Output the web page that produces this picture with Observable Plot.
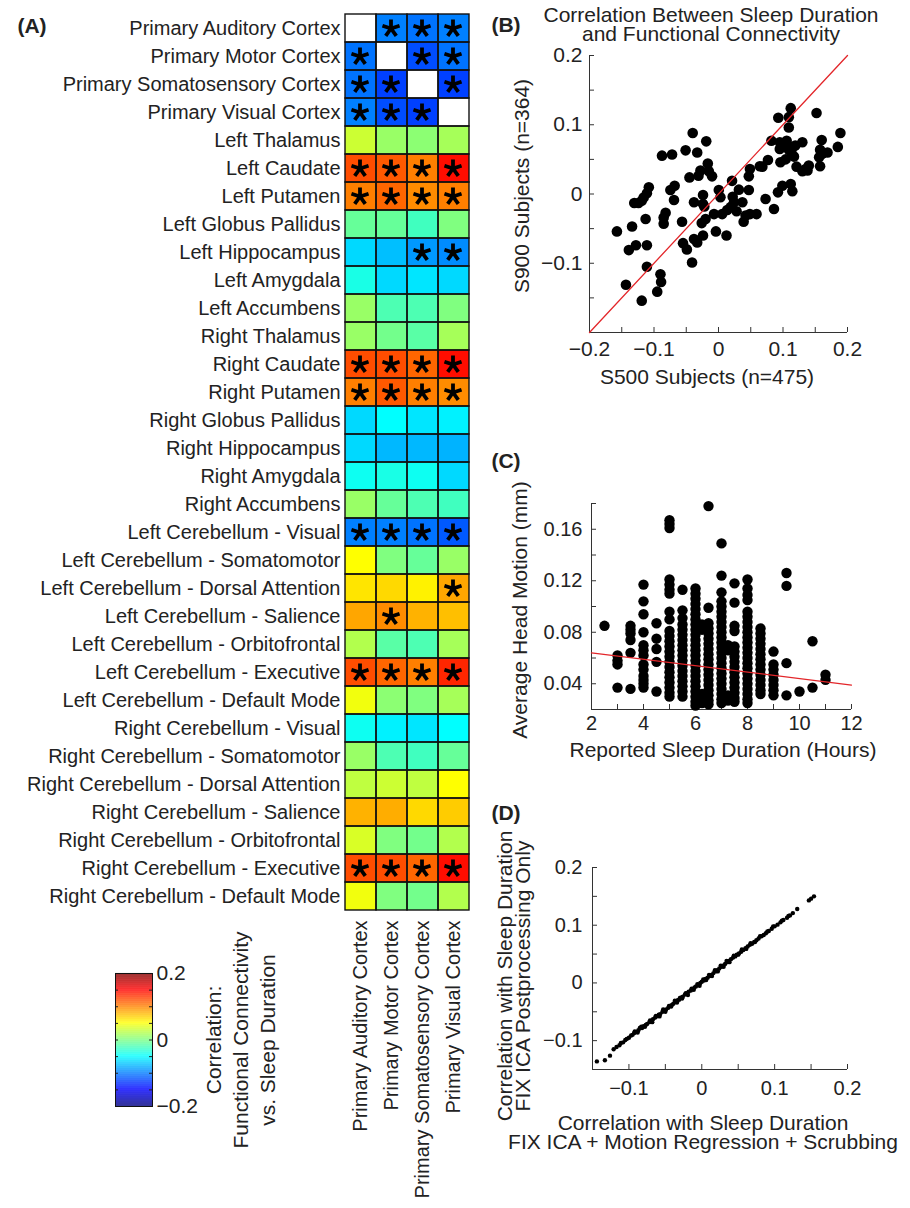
<!DOCTYPE html>
<html><head><meta charset="utf-8">
<script src="https://cdn.jsdelivr.net/npm/d3@7"></script>
<script src="https://cdn.jsdelivr.net/npm/@observablehq/plot@0.6"></script>
<style>
body{margin:0;background:#fff;}
#fig{position:relative;width:910px;height:1208px;overflow:hidden;background:#fff;font-family:"Liberation Sans",Arial,Helvetica,sans-serif;color:#222;}
.panel{position:absolute;}
.lbl{position:absolute;white-space:pre;text-align:center;}
</style></head><body><div id="fig"></div>
<script>
// ---------------- Panel A data ----------------
const rowLabels = [
  "Primary Auditory Cortex","Primary Motor Cortex","Primary Somatosensory Cortex","Primary Visual Cortex",
  "Left Thalamus","Left Caudate","Left Putamen","Left Globus Pallidus","Left Hippocampus","Left Amygdala","Left Accumbens",
  "Right Thalamus","Right Caudate","Right Putamen","Right Globus Pallidus","Right Hippocampus","Right Amygdala","Right Accumbens",
  "Left Cerebellum - Visual","Left Cerebellum - Somatomotor","Left Cerebellum - Dorsal Attention","Left Cerebellum - Salience",
  "Left Cerebellum - Orbitofrontal","Left Cerebellum - Executive","Left Cerebellum - Default Mode",
  "Right Cerebellum - Visual","Right Cerebellum - Somatomotor","Right Cerebellum - Dorsal Attention","Right Cerebellum - Salience",
  "Right Cerebellum - Orbitofrontal","Right Cerebellum - Executive","Right Cerebellum - Default Mode"
];
const colLabels = ["Primary Auditory Cortex","Primary Motor Cortex","Primary Somatosensory Cortex","Primary Visual Cortex"];
const corrAuditory = [null,-0.105,-0.105,-0.10,0.03,0.12,0.10,-0.01,-0.065,-0.04,0.01,0.01,0.12,0.10,-0.065,-0.065,-0.045,0.01,-0.10,0.05,0.06,0.085,0.02,0.12,0.045,-0.045,0.01,0.025,0.08,0.035,0.12,0.045];
const corrMotor    = [-0.10,null,-0.125,-0.12,0.01,0.115,0.11,-0.01,-0.075,-0.065,-0.02,-0.005,0.12,0.115,-0.05,-0.078,-0.04,-0.01,-0.10,0.0,0.065,0.095,-0.015,0.11,0.005,-0.055,-0.02,0.03,0.082,0.0,0.12,0.0];
const corrSomato   = [-0.105,-0.12,null,-0.125,0.005,0.10,0.095,-0.025,-0.09,-0.06,-0.02,-0.015,0.11,0.10,-0.06,-0.078,-0.045,-0.02,-0.105,-0.01,0.055,0.08,-0.02,0.10,0.0,-0.06,-0.025,0.025,0.065,-0.005,0.11,-0.005];
const corrVisual   = [-0.10,-0.105,-0.125,null,0.015,0.145,0.10,0.0,-0.095,-0.065,0.0,0.015,0.145,0.095,-0.055,-0.08,-0.065,-0.025,-0.115,0.01,0.085,0.075,0.015,0.135,0.015,-0.05,-0.01,0.05,0.07,0.02,0.145,0.02];
const sigAuditory = [2,3,4,6,7,13,14,19,24,31];
const sigMotor    = [1,3,4,6,7,13,14,19,22,24,31];
const sigSomato   = [1,2,4,6,7,9,13,14,19,24,31];
const sigVisual   = [1,2,3,6,7,9,13,14,19,21,24,31];
const colorTicks = [-0.2, 0, 0.2];

// ---------------- Panel B data ----------------
const s500 = [-0.1575,-0.139,-0.134,-0.1435,-0.128,-0.1306,-0.124,-0.119,-0.116,-0.111,-0.108,-0.113,-0.111,-0.111,-0.119,-0.095,-0.090,-0.089,-0.0876,-0.072,-0.085,-0.085,-0.082,-0.0746,-0.068,-0.069,-0.0565,-0.055,-0.051,-0.049,-0.045,-0.040,-0.041,-0.038,-0.038,-0.033,-0.033,-0.031,-0.028,-0.026,-0.024,-0.024,-0.022,-0.024,-0.019,-0.020,-0.0166,-0.015,-0.010,-0.007,-0.004,0.0005,0.003,0.0057,0.0124,0.0135,0.0187,0.021,0.022,0.024,0.028,0.0316,0.037,0.039,0.042,0.047,0.047,0.0487,0.0487,0.059,0.064,0.068,0.073,0.0767,0.082,0.086,0.0927,0.095,0.095,0.096,0.0922,0.099,0.104,0.1057,0.107,0.109,0.109,0.112,0.109,0.113,0.112,0.1145,0.117,0.121,0.130,0.130,0.135,0.140,0.152,0.1575,0.1575,0.160,0.161,0.169,0.185,0.189,0.156,0.138,0.1145,0.119];
const s900 = [-0.054,-0.081,-0.047,-0.131,-0.074,-0.013,-0.013,-0.0096,-0.005,0.001,0.0096,-0.036,-0.074,-0.105,-0.154,-0.141,-0.116,-0.127,0.0554,0.057,-0.034,-0.043,-0.027,0.0058,0.012,-0.0087,-0.040,-0.071,0.063,-0.080,0.024,0.088,-0.099,-0.065,-0.012,0.060,-0.070,0.0265,0.034,-0.042,-0.0015,-0.0145,-0.018,-0.060,0.076,-0.036,0.044,0.033,0.0255,-0.029,-0.054,0.0058,-0.0048,-0.029,-0.060,-0.023,-0.019,0.019,-0.004,-0.012,-0.025,0.0063,-0.012,-0.040,-0.031,0.0058,0.0255,0.036,-0.029,-0.029,0.040,0.0395,-0.0072,0.049,0.077,-0.0217,0.110,0.0747,0.065,0.0458,0.0024,0.012,0.050,0.077,0.069,0.096,0.064,0.124,0.111,0.060,0.0145,0.0039,0.054,0.0395,0.0747,0.033,0.036,0.041,0.117,0.064,0.040,0.078,0.058,0.060,0.068,0.088,0.053,0.034,0.067,0.070];
const identityLine = [-0.2, 0.2];

// ---------------- Panel C data ----------------
const sleepHours = [2.5,3,3.5,4,4.5,5,5.5,6,6.25,6.5,7,7.25,7.5,8,8.5,9,9.5,10,10.5,11];
const motionByHours = [
  [0.085],
  [0.062,0.058,0.055,0.037],
  [0.085,0.082,0.079,0.074,0.064,0.036],
  [0.117,0.104,0.094,0.080,0.070,0.066,0.062,0.055,0.051,0.046,0.043,0.040,0.037],
  [0.087,0.075,0.067,0.057,0.034],
  [0.167,0.164,0.161,0.121,0.117,0.113,0.110,0.096,0.090,0.081,0.077,0.073,0.069,0.065,0.061,0.057,0.053,0.049,0.045,0.041,0.037,0.033,0.030],
  [0.113,0.097,0.091,0.086,0.082,0.078,0.074,0.070,0.066,0.062,0.058,0.054,0.050,0.046,0.042,0.038,0.034,0.030],
  [0.114,0.110,0.106,0.102,0.098,0.094,0.090,0.086,0.082,0.078,0.074,0.070,0.066,0.062,0.058,0.054,0.050,0.046,0.042,0.038,0.034,0.030,0.026,0.023],
  [0.086,0.082,0.032,0.028,0.025],
  [0.178,0.099,0.087,0.083,0.079,0.075,0.071,0.067,0.063,0.059,0.055,0.051,0.047,0.043,0.039,0.035,0.031,0.027,0.024],
  [0.149,0.124,0.111,0.104,0.100,0.096,0.092,0.088,0.084,0.080,0.076,0.072,0.068,0.064,0.060,0.056,0.052,0.048,0.044,0.040,0.036,0.032,0.028,0.025],
  [0.070,0.066,0.031,0.027],
  [0.118,0.103,0.085,0.081,0.069,0.065,0.061,0.057,0.053,0.049,0.045,0.041,0.037,0.033,0.029,0.026],
  [0.121,0.114,0.109,0.105,0.096,0.092,0.088,0.084,0.080,0.076,0.072,0.068,0.064,0.060,0.056,0.052,0.048,0.044,0.040,0.036,0.032,0.028,0.025],
  [0.083,0.079,0.075,0.071,0.067,0.063,0.059,0.055,0.051,0.047,0.043,0.039,0.035,0.032],
  [0.065,0.055,0.051,0.047,0.043,0.039,0.035,0.031],
  [0.126,0.116,0.056,0.031],
  [0.034],
  [0.073,0.037],
  [0.047,0.043]
];
const fitHours = [2, 12];
const fitMotion = [0.064, 0.039];

// ---------------- Panel D data ----------------
const dScrub = [-0.144,-0.133,-0.126,-0.121,-0.117,-0.113,-0.111,-0.108,-0.105,-0.103,-0.100,-0.097,-0.095,-0.093,-0.090,-0.087,-0.085,-0.082,-0.080,-0.077,-0.075,-0.072,-0.070,-0.067,-0.064,-0.062,-0.059,-0.057,-0.054,-0.052,-0.049,-0.046,-0.044,-0.041,-0.039,-0.036,-0.033,-0.031,-0.028,-0.026,-0.023,-0.020,-0.018,-0.015,-0.013,-0.010,-0.008,-0.005,-0.002,0.000,0.003,0.005,0.008,0.011,0.013,0.016,0.019,0.021,0.024,0.027,0.029,0.032,0.035,0.037,0.040,0.043,0.046,0.048,0.051,0.054,0.057,0.060,0.063,0.066,0.069,0.072,0.075,0.078,0.082,0.085,0.088,0.092,0.096,0.100,0.104,0.108,0.112,0.117,0.121,0.125,0.131,0.147,0.150,0.154,
  -0.092,-0.088,-0.083,-0.078,-0.071,-0.068,-0.063,-0.058,-0.053,-0.050,-0.045,-0.042,-0.037,-0.034,-0.030,-0.027,-0.022,-0.019,-0.014,-0.011,-0.006,-0.003,0.002,0.006,0.010,0.014,0.018,0.022,0.026,0.030,0.034,0.038,0.044,0.050,0.055,0.061,0.067,0.073,0.080,0.090,0.098,0.110,0.119];
const dFixOnly = [-0.136,-0.134,-0.126,-0.115,-0.111,-0.108,-0.104,-0.103,-0.099,-0.097,-0.095,-0.091,-0.090,-0.087,-0.085,-0.082,-0.078,-0.078,-0.075,-0.073,-0.071,-0.068,-0.066,-0.063,-0.060,-0.058,-0.055,-0.054,-0.050,-0.048,-0.046,-0.043,-0.040,-0.038,-0.036,-0.033,-0.030,-0.029,-0.025,-0.024,-0.020,-0.018,-0.015,-0.013,-0.011,-0.008,-0.006,-0.003,0.000,0.002,0.004,0.007,0.009,0.012,0.014,0.017,0.020,0.022,0.025,0.028,0.030,0.033,0.036,0.038,0.041,0.044,0.046,0.049,0.051,0.054,0.057,0.060,0.063,0.066,0.068,0.071,0.074,0.077,0.081,0.083,0.086,0.090,0.094,0.098,0.101,0.105,0.109,0.113,0.117,0.121,0.128,0.143,0.146,0.150,
  -0.084,-0.086,-0.076,-0.076,-0.065,-0.068,-0.057,-0.058,-0.046,-0.050,-0.040,-0.041,-0.031,-0.034,-0.026,-0.027,-0.018,-0.021,-0.010,-0.012,-0.002,-0.005,0.006,0.005,0.014,0.012,0.022,0.020,0.030,0.028,0.038,0.036,0.047,0.049,0.058,0.059,0.069,0.071,0.081,0.089,0.098,0.108,0.116];

// ---------------- helpers ----------------
const fig = document.getElementById("fig");
const FONT = '"Liberation Sans", Arial, Helvetica, sans-serif';
const AX = "#333";
const fmt = d3.format("~g");
const jet = (t) => {
  const c = v => Math.max(0, Math.min(1, v));
  const r = c(1.5 - Math.abs(4 * t - 3)), g = c(1.5 - Math.abs(4 * t - 2)), b = c(1.5 - Math.abs(4 * t - 1));
  return `rgb(${Math.round(r*255)},${Math.round(g*255)},${Math.round(b*255)})`;
};
const colorScale = {type: "linear", domain: [-0.2, 0.2], interpolate: jet, clamp: true};
// five-armed asterisk symbol (like the text glyph "*")
const star5 = {
  draw(context, size) {
    const r = Math.sqrt(size / Math.PI);
    for (let k = 0; k < 5; ++k) {
      const a = (-90 + 72 * k) * Math.PI / 180;
      context.moveTo(0, 0);
      context.lineTo(r * Math.cos(a), r * Math.sin(a));
    }
  }
};
function place(node, left, top) {
  const d = document.createElement("div");
  d.className = "panel"; d.style.left = left + "px"; d.style.top = top + "px";
  d.appendChild(node); fig.appendChild(d);
}
function addLabel(text, cx, cy, {size = 21, rotate = 0, weight = "normal", lh = null} = {}) {
  const d = document.createElement("div");
  d.className = "lbl"; d.textContent = text;
  d.style.left = cx + "px"; d.style.top = cy + "px";
  d.style.fontSize = size + "px"; d.style.fontWeight = weight;
  d.style.lineHeight = (lh ?? Math.round(size * 1.15)) + "px";
  d.style.transform = `translate(-50%,-50%) rotate(${rotate}deg)`;
  fig.appendChild(d);
}
const baseStyle = (fs) => ({background: "transparent", fontFamily: FONT, fontSize: fs + "px", color: "#222", overflow: "visible"});

// inward tick helpers
function xTicksIn(values, ymin, len = 5) {
  return Plot.ruleX(values, {x: d => d, y1: ymin, y2: ymin, insetBottom: len, stroke: AX});
}
function yTicksIn(values, xmin, len = 5) {
  return Plot.ruleY(values, {y: d => d, x1: xmin, x2: xmin, insetRight: -len, stroke: AX});
}

// ---------------- Panel A: heatmap ----------------
const corrCols = [corrAuditory, corrMotor, corrSomato, corrVisual];
const sigCols = [sigAuditory, sigMotor, sigSomato, sigVisual];
const cells = [];
rowLabels.forEach((r, i) => colLabels.forEach((c, j) => cells.push({row: r, col: c, v: corrCols[j][i], sig: sigCols[j].includes(i + 1)})));

const heat = Plot.plot({
  width: 480, height: 1208,
  marginLeft: 345, marginRight: 11, marginTop: 10, marginBottom: 295,
  style: baseStyle(20),
  x: {domain: colLabels, padding: 0, label: null},
  y: {domain: rowLabels, padding: 0, label: null},
  color: colorScale,
  marks: [
    Plot.cell(cells.filter(d => d.v != null), {x: "col", y: "row", fill: "v", inset: 0}),
    Plot.cell(cells, {x: "col", y: "row", fill: "none", stroke: "#111", strokeWidth: 1.4, inset: 0}),
    Plot.dot(cells.filter(d => d.sig), {x: "col", y: "row", symbol: star5, r: 9, fill: "none", stroke: "black", strokeWidth: 3.8, dy: 0, dx: -1}),
    Plot.axisY({anchor: "left", tickSize: 0, tickPadding: 5, label: null, fontSize: 20}),
    Plot.axisX({anchor: "bottom", tickSize: 0, tickRotate: -90, tickPadding: 7, label: null, fontSize: 20})
  ]
});
place(heat, 0, 0);

// colorbar
const ramp = d3.range(-0.2, 0.2, 0.002);
const cbMinor = [-0.15, -0.1, -0.05, 0, 0.05, 0.1, 0.15];
const cbar = Plot.plot({
  width: 120, height: 160,
  marginLeft: 15, marginRight: 68, marginTop: 13, marginBottom: 14,
  style: baseStyle(21),
  x: {domain: [0, 1], axis: null},
  y: {domain: [-0.2, 0.2], label: null, axis: null},
  color: colorScale,
  marks: [
    Plot.rect(ramp, {x1: 0, x2: 1, y1: d => d, y2: d => d + 0.0021, fill: d => d}),
    Plot.ruleY(cbMinor, {y: d => d, x1: 0, x2: 0, insetRight: -3, stroke: "#222"}),
    Plot.ruleY(cbMinor, {y: d => d, x1: 1, x2: 1, insetLeft: -3, stroke: "#222"}),
    Plot.frame({stroke: "#111"}),
    Plot.axisY({anchor: "right", ticks: colorTicks, tickFormat: fmt, tickSize: 0, tickPadding: 4, label: null, fontSize: 21})
  ]
});
place(cbar, 100, 960);

// ---------------- Panel B ----------------
const bData = s500.map((x, i) => ({x, y: s900[i]}));
const minor05 = [-0.2,-0.15,-0.1,-0.05,0,0.05,0.1,0.15,0.2];
const panelB = Plot.plot({
  width: 430, height: 360,
  marginLeft: 109, marginRight: 63, marginTop: 15, marginBottom: 68,
  style: baseStyle(21),
  x: {domain: [-0.2, 0.2], label: null},
  y: {domain: [-0.2, 0.2], label: null},
  marks: [
    Plot.ruleY([-0.2], {stroke: AX}),
    Plot.ruleX([-0.2], {stroke: AX}),
    xTicksIn(minor05, -0.2),
    yTicksIn(minor05, -0.2),
    Plot.dot(bData, {x: "x", y: "y", r: 5.3, fill: "black"}),
    Plot.line(identityLine.map(v => ({x: v, y: v})), {x: "x", y: "y", stroke: "#e3262a", strokeWidth: 1.3}),
    Plot.axisX({ticks: [-0.2, -0.1, 0, 0.1, 0.2], tickFormat: fmt, tickSize: 0, tickPadding: 9, label: null, fontSize: 21, fill: "#222"}),
    Plot.axisY({ticks: [-0.1, 0, 0.1, 0.2], tickFormat: fmt, tickSize: 0, tickPadding: 7, label: null, fontSize: 21, fill: "#222"})
  ]
});
place(panelB, 480, 40);

// ---------------- Panel C ----------------
const cData = sleepHours.flatMap((h, i) => motionByHours[i].map(m => ({h, m})));
const panelC = Plot.plot({
  width: 430, height: 340,
  marginLeft: 111, marginRight: 59, marginTop: 73, marginBottom: 61,
  style: baseStyle(20),
  x: {domain: [2, 12], label: null},
  y: {domain: [0.02, 0.18], label: null},
  marks: [
    Plot.ruleY([0.02], {stroke: AX}),
    Plot.ruleX([2], {stroke: AX}),
    xTicksIn([2,3,4,5,6,7,8,9,10,11,12], 0.02),
    yTicksIn([0.02,0.04,0.06,0.08,0.1,0.12,0.14,0.16,0.18], 2),
    Plot.dot(cData, {x: "h", y: "m", r: 5.2, fill: "black"}),
    Plot.line(fitHours.map((h, i) => ({h, m: fitMotion[i]})), {x: "h", y: "m", stroke: "#e3262a", strokeWidth: 1.3}),
    Plot.axisX({ticks: [2, 4, 6, 8, 10, 12], tickFormat: fmt, tickSize: 0, tickPadding: 6, label: null, fontSize: 20, fill: "#222"}),
    Plot.axisY({ticks: [0.04, 0.08, 0.12, 0.16], tickFormat: fmt, tickSize: 0, tickPadding: 9, label: null, fontSize: 20, fill: "#222"})
  ]
});
place(panelC, 480, 430);

// ---------------- Panel D ----------------
const dData = dScrub.map((x, i) => ({x, y: dFixOnly[i]}));
const minorD = [-0.15,-0.1,-0.05,0,0.05,0.1,0.15,0.2];
const panelD = Plot.plot({
  width: 430, height: 368,
  marginLeft: 112, marginRight: 63, marginTop: 27, marginBottom: 139,
  style: baseStyle(20),
  x: {domain: [-0.15, 0.2], label: null},
  y: {domain: [-0.15, 0.2], label: null},
  marks: [
    Plot.ruleY([-0.15], {stroke: AX}),
    Plot.ruleX([-0.15], {stroke: AX}),
    xTicksIn(minorD, -0.15),
    yTicksIn(minorD, -0.15),
    Plot.dot(dData, {x: "x", y: "y", r: 2.2, fill: "black"}),
    Plot.axisX({ticks: [-0.1, 0, 0.1, 0.2], tickFormat: fmt, tickSize: 0, tickPadding: 11, label: null, fontSize: 20, fill: "#222"}),
    Plot.axisY({ticks: [-0.1, 0, 0.1, 0.2], tickFormat: fmt, tickSize: 0, tickPadding: 10, label: null, fontSize: 20, fill: "#222"})
  ]
});
place(panelD, 480, 840);

// ---------------- Text labels ----------------
addLabel("(A)", 32, 26, {size: 21, weight: "bold"});
addLabel("(B)", 506, 25, {size: 21, weight: "bold"});
addLabel("(C)", 506, 461, {size: 21, weight: "bold"});
addLabel("(D)", 506, 813, {size: 21, weight: "bold"});
addLabel("Correlation Between Sleep Duration\nand Functional Connectivity", 711, 24, {size: 21, lh: 18.5});
addLabel("S900 Subjects (n=364)", 522, 186, {size: 21, rotate: -90});
addLabel("S500 Subjects (n=475)", 707, 377, {size: 21});
addLabel("Average Head Motion (mm)", 520, 610, {size: 21, rotate: -90});
addLabel("Reported Sleep Duration (Hours)", 723, 750, {size: 21});
addLabel("Correlation with Sleep Duration\nFIX ICA Postprocessing Only", 514, 976, {size: 21, rotate: -90, lh: 18});
addLabel("Correlation with Sleep Duration\nFIX ICA + Motion Regression + Scrubbing", 703, 1132, {size: 21, lh: 19});
addLabel("Correlation:\nFunctional Connectivity\nvs. Sleep Duration", 240, 1040, {size: 21, rotate: -90, lh: 27});
</script></body></html>
